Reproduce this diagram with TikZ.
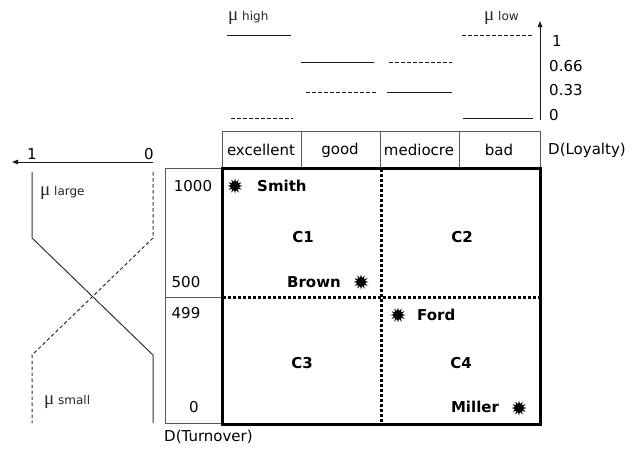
\documentclass[tikz,border=0pt]{standalone}
\usepackage{fontspec}
\setmainfont{DejaVu Sans}
\newfontfamily\muf{Liberation Serif}
\usetikzlibrary{shapes.geometric,arrows.meta}
\tikzset{
  lbl/.style={inner sep=0pt, font=\fontsize{15}{17}\selectfont},
  blbl/.style={inner sep=0pt, font=\fontsize{15}{17}\selectfont\bfseries},
  small/.style={inner sep=0pt, anchor=west, font=\fontsize{12}{13}\selectfont, text=black!85},
  sun/.style={star, star points=12, star point ratio=1.9, fill=black, draw=none, minimum size=15pt, inner sep=0pt},
  thin/.style={draw=black!65, line width=1pt},
  solidm/.style={draw=black!90, line width=1pt},
  dashm/.style={draw=black!90, line width=1pt, dash pattern=on 3.5pt off 2.5pt},
  thickbox/.style={draw=black, line width=3pt},
  dots/.style={draw=black, line width=3pt, dash pattern=on 2.5pt off 2.5pt},
}
\newcommand{\mmu}{{\muf\fontsize{19}{19}\selectfont μ}}
\begin{document}
\begin{tikzpicture}[x=1pt,y=-1pt]
\useasboundingbox (0,0) rectangle (644,451);
% ---------- top membership chart ----------
\node[small] (mhigh) at (228,18) {\mmu\ high};
\node[small] (mlow) at (484,18) {\mmu\ low};
\coordinate (ax0) at (540,120);
\coordinate (ax1) at (540,21);
\draw[solidm,-{Triangle[length=6pt,width=4.5pt]}] (ax0) -- (ax1);
\node[lbl,anchor=west] (v1) at (552,41) {1};
\node[lbl,anchor=west] (v66) at (549,66) {0.66};
\node[lbl,anchor=west] (v33) at (549,90) {0.33};
\node[lbl,anchor=west] (v0) at (549,115) {0};
% excellent
\coordinate (e1a) at (227,35); \coordinate (e1b) at (291,35);
\coordinate (e2a) at (231,118); \coordinate (e2b) at (293,118);
\draw[solidm] (e1a) -- (e1b);
\draw[dashm] (e2a) -- (e2b);
% good
\coordinate (g1a) at (301,62); \coordinate (g1b) at (374,62);
\coordinate (g2a) at (306,92); \coordinate (g2b) at (376,92);
\draw[solidm] (g1a) -- (g1b);
\draw[dashm] (g2a) -- (g2b);
% mediocre
\coordinate (m1a) at (389,62); \coordinate (m1b) at (452,62);
\coordinate (m2a) at (387,92); \coordinate (m2b) at (452,92);
\draw[dashm] (m1a) -- (m1b);
\draw[solidm] (m2a) -- (m2b);
% bad
\coordinate (b1a) at (462,35); \coordinate (b1b) at (533,35);
\coordinate (b2a) at (463,118); \coordinate (b2b) at (533,118);
\draw[dashm] (b1a) -- (b1b);
\draw[solidm] (b2a) -- (b2b);
% ---------- header row ----------
\coordinate (h0) at (222,131); \coordinate (h4) at (540,168);
\draw[thin] (h0) rectangle (h4);
\foreach \x in {301,380,459} \draw[thin] (\x,131) -- (\x,168);
\node[lbl] (cexc) at (261,150) {excellent};
\node[lbl] (cgood) at (340,150) {good};
\node[lbl] (cmed) at (419,150) {mediocre};
\node[lbl] (cbad) at (499,150) {bad};
\node[lbl,anchor=west] (dloy) at (548,150) {D(Loyalty)};
% ---------- left column ----------
\coordinate (l0) at (165,168); \coordinate (l1) at (222,423);
\coordinate (lm0) at (165,297); \coordinate (lm1) at (222,297);
\draw[thin] (l0) rectangle (l1);
\draw[thin] (lm0) -- (lm1);
\node[lbl] (n1000) at (193,186) {1000};
\node[lbl] (n500) at (186,282) {500};
\node[lbl] (n499) at (186,313) {499};
\node[lbl] (nz) at (194,407) {0};
\node[lbl,anchor=west] (dturn) at (164,437) {D(Turnover)};
% ---------- main grid ----------
\coordinate (g0) at (222,168); \coordinate (g1) at (540,424);
\coordinate (vt) at (381,169); \coordinate (vb) at (381,423);
\coordinate (hl) at (223,297); \coordinate (hr) at (539,297);
\draw[dots] (vt) -- (vb);
\draw[dots] (hl) -- (hr);
\draw[thickbox] (g0) rectangle (g1);
\node[sun] (s1) at (235,186) {};
\node[blbl,anchor=west] (smith) at (257,186) {Smith};
\node[blbl] (c1) at (303,237) {C1};
\node[blbl] (c2) at (462,237) {C2};
\node[blbl] (brown) at (314,282) {Brown};
\node[sun] (s2) at (361,282) {};
\node[sun] (s3) at (398,315) {};
\node[blbl,anchor=west] (ford) at (417,315) {Ford};
\node[blbl] (c3) at (302,363) {C3};
\node[blbl] (c4) at (461,363) {C4};
\node[blbl] (miller) at (475,407) {Miller};
\node[sun] (s4) at (519,408) {};
% ---------- left membership chart ----------
\coordinate (la0) at (153,162); \coordinate (la1) at (12,162);
\draw[solidm,-{Triangle[length=6pt,width=4.5pt]}] (la0) -- (la1);
\node[lbl] (lone) at (32,154) {1};
\node[lbl] (lzero) at (149,154) {0};
\coordinate (p1) at (32,172); \coordinate (p2) at (32,238);
\coordinate (p3) at (153,355); \coordinate (p4) at (153,423);
\coordinate (q1) at (153,172); \coordinate (q2) at (153,238);
\coordinate (q3) at (32,355); \coordinate (q4) at (32,423);
\draw[thin,draw=black!80] (p1) -- (p2) -- (p3) -- (p4);
\draw[thin,draw=black!80, dash pattern=on 3.5pt off 2.5pt] (q1) -- (q2) -- (q3) -- (q4);
\node[small] (mlarge) at (40,193) {\mmu\ large};
\node[small] (msmall) at (44,402) {\mmu\ small};
\end{tikzpicture}
\end{document}
